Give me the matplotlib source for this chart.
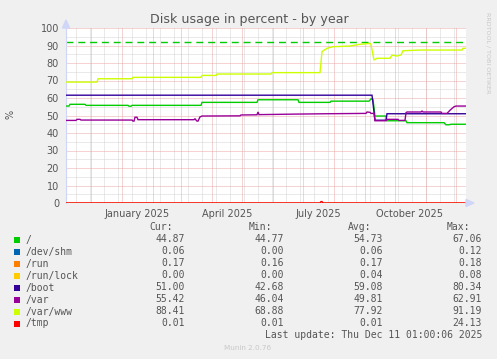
import matplotlib
matplotlib.use("Agg")
import matplotlib.pyplot as plt
from matplotlib.patches import Polygon, Rectangle
from datetime import date

W, H = 497, 359

# --- data (x = days since 2024-11-06, one day per pixel like munin) ---
root_days = [0, 3, 4, 19, 20, 62, 63, 65, 66, 135, 136, 191, 192, 232, 233, 264, 265,
             303, 305, 307, 309, 320, 321, 340, 341, 378, 380, 383, 385, 400]
root_vals = [55.4, 55.4, 56.4, 56.4, 55.8, 55.8, 55.3, 55.3, 55.8, 55.8, 57.5, 57.5, 59.0,
             59.0, 57.5, 57.5, 58.2, 58.2, 59.5, 59.2, 49.7, 49.7, 47.0, 47.0, 45.9, 45.9,
             44.7, 44.7, 45.0, 45.0]

shm_days = [0, 400]
shm_vals = [0.06, 0.06]
run_days = [0, 400]
run_vals = [0.17, 0.17]
lock_days = [0, 400]
lock_vals = [0.0, 0.0]

boot_days = [0, 306, 309, 320, 321, 400]
boot_vals = [61.6, 61.6, 47.3, 47.3, 51.0, 51.0]

var_days = [0, 10, 11, 14, 15, 66, 67, 68, 69, 71, 72, 128, 129, 130, 131, 132, 134, 136,
            174, 175, 191, 192, 193, 230, 260, 300, 301, 304, 305, 308, 309, 320, 321, 332,
            333, 339, 340, 341, 355, 356, 357, 375, 376, 381, 384, 388, 390, 400]
var_vals = [47.2, 47.2, 47.8, 47.8, 47.4, 47.4, 46.8, 46.8, 49.0, 49.0, 47.6, 47.6, 48.2,
            47.4, 46.8, 46.8, 49.2, 49.7, 49.8, 50.3, 50.4, 52.0, 50.5, 50.8, 51.0, 51.2,
            52.0, 51.8, 51.2, 51.2, 47.0, 47.0, 47.8, 47.8, 47.2, 47.2, 51.6, 52.0, 52.0,
            52.6, 52.0, 52.0, 51.2, 51.2, 53.0, 55.0, 55.4, 55.4]

www_days = [0, 31, 32, 66, 67, 135, 136, 150, 151, 205, 206, 254, 256, 261, 267, 284, 294,
            304, 305, 308, 311, 324, 326, 331, 335, 337, 354, 396, 397, 400]
www_vals = [69.1, 69.1, 71.0, 71.0, 71.8, 71.8, 72.9, 72.9, 73.7, 73.7, 74.5, 74.5, 86.5,
            88.4, 89.3, 89.7, 90.7, 91.2, 90.5, 81.7, 82.7, 82.7, 84.5, 84.0, 84.6, 87.0,
            87.4, 87.4, 88.4, 88.4]

tmp_days = [0, 254, 255, 256, 257, 400]
tmp_vals = [0.01, 0.01, 0.8, 0.8, 0.01, 0.01]

warning = 92

names = ["/", "/dev/shm", "/run", "/run/lock", "/boot", "/var", "/var/www", "/tmp"]
colors = ["#00CC00", "#0066B3", "#FF8000", "#FFCC00", "#330099", "#990099", "#CCFF00", "#FF0000"]
cur = ["44.87", "0.06", "0.17", "0.00", "51.00", "55.42", "88.41", "0.01"]
mins = ["44.77", "0.00", "0.16", "0.00", "42.68", "46.04", "68.88", "0.01"]
avgs = ["54.73", "0.06", "0.17", "0.04", "59.08", "49.81", "77.92", "0.01"]
maxs = ["67.06", "0.12", "0.18", "0.08", "80.34", "62.91", "91.19", "24.13"]

month_labels = ["January 2025", "April 2025", "July 2025", "October 2025"]
start = date(2024, 11, 6)


def px(x, y):
    # pixel (from top-left) -> figure fraction
    return (x / W, 1 - y / H)


fig = plt.figure(figsize=(W / 100, H / 100), dpi=100, facecolor="#F0F0F0")
ax = fig.add_axes([66 / W, 1 - 203 / H, 400 / W, 175 / H])
ax.set_facecolor("white")
ax.set_xlim(0, 400)
ax.set_ylim(0, 100)

# grid
minor_c = "#D4D4D4"
major_c = "#EDA8A8"
dots = (0, (1, 1))
for v in range(5, 100, 10):
    ax.axhline(v, color=minor_c, lw=0.72, ls=dots, zorder=0)
for v in range(10, 101, 10):
    ax.axhline(v, color=major_c, lw=0.72, ls=dots, zorder=0.5)
for d in range(10, 400, 14):
    ax.axvline(d, color=minor_c, lw=0.72, ls=dots, zorder=0)
month_starts = []
for y, m in [(2024, 12)] + [(2025, k) for k in range(1, 13)]:
    month_starts.append((date(y, m, 1) - start).days)
for d in month_starts:
    ax.axvline(d, color=major_c, lw=0.72, ls=dots, zorder=0.5)

# series, drawn in munin order
series = [(root_days, root_vals), (shm_days, shm_vals), (run_days, run_vals),
          (lock_days, lock_vals), (boot_days, boot_vals), (var_days, var_vals),
          (www_days, www_vals), (tmp_days, tmp_vals)]
for (d, v), c in zip(series, colors):
    ax.plot(d, v, color=c, lw=1.0, zorder=3, solid_joinstyle="miter")

ax.axhline(warning, color="#00CC00", lw=1.0, ls=(0, (5, 3.5)), zorder=2)

# axes + arrows
for s in ["top", "right", "bottom"]:
    ax.spines[s].set_visible(False)
ax.spines["left"].set_color("#CFD6F8")
ax.spines["left"].set_linewidth(0.8)
fig.patches.append(Polygon([px(62.5, 28), px(69.5, 28), px(66, 20)], closed=True,
                           transform=fig.transFigure, color="#CFD6F8"))
fig.patches.append(Polygon([px(466, 199.5), px(466, 206.5), px(474, 203)], closed=True,
                           transform=fig.transFigure, color="#CFD6F8"))

label_pos = [(date(2025, m, 1) - start).days + 15 for m in (1, 4, 7, 10)]
ax.set_xticks(label_pos, month_labels)
ax.set_yticks(range(0, 101, 10))
ax.tick_params(length=0, labelsize=7, labelcolor="#555555")
ax.tick_params(axis="x", pad=4)
ax.tick_params(axis="y", pad=5)

fig.text(*px(249, 19), "Disk usage in percent - by year", ha="center", va="center",
         fontsize=9.1, color="#555555")
fig.text(*px(11, 114), "%", rotation=90, ha="center", va="center", fontsize=7,
         color="#555555")
fig.text(*px(488, 53), "RRDTOOL / TOBI OETIKER", rotation=270, ha="center",
         va="center", fontsize=4.6, color="#C8C8C8")

# legend table
mono = "DejaVu Sans Mono"
fs = 7
txt = "#555555"
for lab, x in zip(["Cur:", "Min:", "Avg:", "Max:"], [173, 272, 371, 470]):
    fig.text(*px(x, 227), lab, ha="right", va="center", family=mono, fontsize=fs, color=txt)
for i, name in enumerate(names):
    y = 239.5 + 12 * i
    fig.patches.append(Rectangle(px(14, y + 3), 6 / W, 6 / H, transform=fig.transFigure,
                                 facecolor=colors[i], edgecolor="none"))
    fig.text(*px(26, y), name, ha="left", va="center", family=mono, fontsize=fs, color=txt)
    for col, x in zip([cur, mins, avgs, maxs], [185, 284, 383, 482]):
        fig.text(*px(x, y), col[i], ha="right", va="center", family=mono, fontsize=fs,
                 color=txt)
fig.text(*px(482, 335.5), "Last update: Thu Dec 11 01:00:06 2025", ha="right",
         va="center", family=mono, fontsize=fs, color=txt)
fig.text(*px(248, 348), "Munin 2.0.76", ha="center", va="center", fontsize=5.2,
         color="#C8C8C8")

fig.savefig("out.png", dpi=100, facecolor=fig.get_facecolor())
